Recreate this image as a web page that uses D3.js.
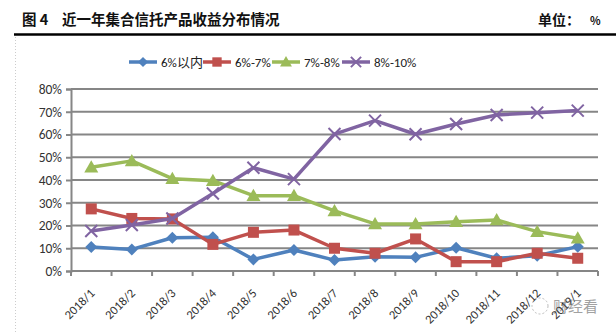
<!DOCTYPE html>
<html>
<head>
<meta charset="utf-8">
<script src="https://cdn.jsdelivr.net/npm/d3@7"></script>
<style>
  html, body { margin: 0; padding: 0; background: #fff; }
  svg { display: block; }
</style>
</head>
<body>
<svg id="chart" width="616" height="334"></svg>
<script>
// Monthly categories
const categories = ["2018/1","2018/2","2018/3","2018/4","2018/5","2018/6","2018/7","2018/8","2018/9","2018/10","2018/11","2018/12","2019/1"];

// Share of products by yield band (%)
const below6   = [10.6, 9.5, 14.6, 14.8, 5.1, 9.2, 4.8, 6.3, 6.0, 10.2, 5.6, 6.7, 10.7];
const band6to7 = [27.3, 23.1, 22.9, 11.7, 17.0, 18.0, 10.0, 7.8, 14.1, 4.1, 4.1, 7.8, 5.6];
const band7to8 = [45.6, 48.4, 40.6, 39.7, 33.1, 33.1, 26.4, 20.7, 20.7, 21.7, 22.4, 17.3, 14.4];
const band8to10 = [17.6, 20.2, 23.1, 34.1, 45.4, 40.4, 60.2, 66.1, 60.1, 64.6, 68.6, 69.6, 70.5];

const seriesNames = ["6%以内", "6%-7%", "7%-8%", "8%-10%"];
const yTicks = [0, 10, 20, 30, 40, 50, 60, 70, 80];

const series = [
  { name: seriesNames[0], values: below6,    color: "#4F81BD", marker: "diamond" },
  { name: seriesNames[1], values: band6to7,  color: "#C0504D", marker: "square" },
  { name: seriesNames[2], values: band7to8,  color: "#9BBB59", marker: "triangle" },
  { name: seriesNames[3], values: band8to10, color: "#8064A2", marker: "cross" }
];

const svg = d3.select("#chart");
const W = 616, H = 334;
const plot = { left: 71, right: 598, top: 89, bottom: 271 };
const labelFont = "Calibri, Carlito, 'Liberation Sans', 'Open Sans', sans-serif";

// Header
svg.append("text").attr("x", 22).attr("y", 25)
  .attr("font-family", "'Noto Sans CJK SC', sans-serif").attr("font-weight", "bold")
  .attr("font-size", 14.5).attr("fill", "#111").text("图 4");
svg.append("text").attr("x", 62).attr("y", 25)
  .attr("font-family", "'Noto Sans CJK SC', sans-serif").attr("font-weight", "bold")
  .attr("font-size", 14.5).attr("fill", "#111").text("近一年集合信托产品收益分布情况");
svg.append("text").attr("x", 538).attr("y", 25)
  .attr("font-family", "'Noto Sans CJK SC', sans-serif").attr("font-weight", "bold")
  .attr("font-size", 14).attr("fill", "#111").text("单位：");
svg.append("text").attr("x", 590).attr("y", 25)
  .attr("font-family", "'Noto Sans CJK SC', sans-serif").attr("font-weight", "bold")
  .attr("font-size", 11).attr("fill", "#111").text("%");
svg.append("line").attr("x1", 14).attr("x2", W).attr("y1", 34.5).attr("y2", 34.5)
  .attr("stroke", "#000").attr("stroke-width", 2.6);

// Dotted frame edge on the left
svg.append("line").attr("x1", 15.5).attr("x2", 15.5).attr("y1", 37).attr("y2", H)
  .attr("stroke", "#ccc").attr("stroke-width", 1).attr("stroke-dasharray", "1,2");

// Scales
const x = d3.scaleBand().domain(categories).range([plot.left, plot.right]).paddingInner(0).paddingOuter(0);
const y = d3.scaleLinear().domain([0, 80]).range([plot.bottom, plot.top]);
const cx = d => x(d) + x.bandwidth() / 2;

// Gridlines
svg.append("g").selectAll("line").data(yTicks.slice(1)).join("line")
  .attr("x1", plot.left).attr("x2", plot.right)
  .attr("y1", d => y(d)).attr("y2", d => y(d))
  .attr("stroke", "#868686").attr("stroke-width", 2);

// Y axis
const yAxis = svg.append("g").attr("transform", `translate(${plot.left},0)`)
  .call(d3.axisLeft(y).tickValues(yTicks).tickFormat(d => d + "%").tickSize(5).tickPadding(4));
yAxis.select(".domain").attr("stroke", "#868686").attr("stroke-width", 2);
yAxis.selectAll(".tick line").attr("stroke", "#868686").attr("stroke-width", 2);
yAxis.selectAll("text").attr("font-family", labelFont)
  .attr("font-size", 13.5).attr("fill", "#333");

// X axis with ticks at category boundaries
const xg = svg.append("g").attr("transform", `translate(0,${plot.bottom})`);
xg.append("line").attr("x1", plot.left).attr("x2", plot.right).attr("y1", 0).attr("y2", 0)
  .attr("stroke", "#868686").attr("stroke-width", 2);
const boundaries = categories.map(c => x(c)).concat([plot.right]);
xg.selectAll(".bt").data(boundaries).join("line").attr("class", "bt")
  .attr("x1", d => d).attr("x2", d => d).attr("y1", 0).attr("y2", 5)
  .attr("stroke", "#868686").attr("stroke-width", 2);
xg.selectAll(".xl").data(categories).join("text").attr("class", "xl")
  .attr("transform", d => `translate(${cx(d) + 1},${20}) rotate(-45)`)
  .attr("text-anchor", "end").attr("dy", "0.35em")
  .attr("font-family", labelFont)
  .attr("font-size", 12.5).attr("fill", "#333").text(d => d);

// Marker drawing
function drawMarker(g, type, color, px, py, scale = 1) {
  if (type === "diamond") {
    const r = 6 * scale;
    g.append("path").attr("d", `M${px},${py - r}L${px + r},${py}L${px},${py + r}L${px - r},${py}Z`)
      .attr("fill", color);
  } else if (type === "square") {
    const s = 11 * scale;
    g.append("rect").attr("x", px - s / 2).attr("y", py - s / 2).attr("width", s).attr("height", s)
      .attr("fill", color);
  } else if (type === "triangle") {
    const r = 7 * scale;
    g.append("path").attr("d", `M${px},${py - r}L${px + r},${py + r * 0.75}L${px - r},${py + r * 0.75}Z`)
      .attr("fill", color);
  } else {
    const r = 6 * scale;
    g.append("path").attr("d", `M${px - r},${py - r}L${px + r},${py + r}M${px - r},${py + r}L${px + r},${py - r}`)
      .attr("stroke", color).attr("stroke-width", 2).attr("fill", "none");
  }
}

// Series
const line = d3.line().x((d, i) => cx(categories[i])).y(d => y(d));
series.forEach(s => {
  const g = svg.append("g");
  g.append("path").attr("d", line(s.values)).attr("fill", "none")
    .attr("stroke", s.color).attr("stroke-width", 3.5).attr("stroke-linejoin", "round");
  s.values.forEach((v, i) => drawMarker(g, s.marker, s.color, cx(categories[i]), y(v)));
});

// Legend
const legendX = [129, 203, 272, 342];
series.forEach((s, i) => {
  const g = svg.append("g").attr("transform", `translate(${legendX[i]},62)`);
  g.append("line").attr("x1", 0).attr("x2", 28).attr("y1", 0).attr("y2", 0)
    .attr("stroke", s.color).attr("stroke-width", 3.5);
  drawMarker(g, s.marker, s.color, 14, 0, 0.85);
  g.append("text").attr("x", 32).attr("y", 0).attr("dy", "0.35em")
    .attr("font-family", "Calibri, Carlito, 'Liberation Sans', 'Noto Sans CJK SC', sans-serif")
    .attr("font-size", 13).attr("fill", "#222").text(s.name);
});

// Watermark
const wm = svg.append("g").attr("opacity", 0.55);
wm.append("circle").attr("cx", 540).attr("cy", 306).attr("r", 8)
  .attr("fill", "none").attr("stroke", "#888").attr("stroke-dasharray", "2,2");
wm.append("text").attr("x", 553).attr("y", 312)
  .attr("font-family", "'Noto Sans CJK SC', sans-serif").attr("font-size", 15)
  .attr("fill", "#555").text("财经看");
</script>
</body>
</html>
